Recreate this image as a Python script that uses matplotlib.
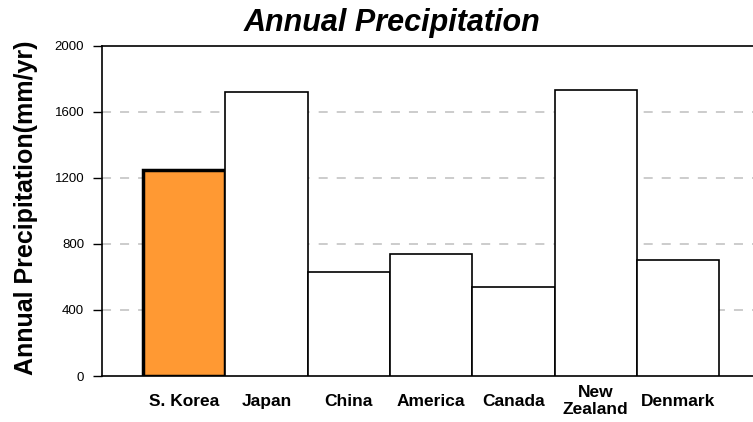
import matplotlib
matplotlib.use("Agg")
import matplotlib.pyplot as plt

plt.rcParams['font.family'] = ['Liberation Sans', 'DejaVu Sans']

countries = ["S. Korea", "Japan", "China", "America", "Canada", "New\nZealand", "Denmark"]
precip = [1245, 1718, 628, 736, 537, 1732, 702]
y_ticks = [0, 400, 800, 1200, 1600, 2000]

fig = plt.figure(figsize=(7.53, 4.22), dpi=100)
ax = fig.add_axes([0.135, 0.109, 0.865, 0.783])

x = range(len(countries))
colors = ["#FF9933"] + ["white"] * (len(countries) - 1)
widths = [2.5] + [1.2] * (len(countries) - 1)
bars = ax.bar(x, precip, width=1.0, color=colors, edgecolor="black",
              linewidth=widths, zorder=3)

ax.set_xlim(-1, 6.91)
ax.set_ylim(0, 2000)
ax.set_yticks(y_ticks)
ax.set_yticklabels([str(v) for v in y_ticks], fontsize=9.5)
ax.set_xticks(list(x))
ax.set_xticklabels(countries, fontsize=12.5, fontweight="bold", va="center",
                   linespacing=1.15)
ax.tick_params(axis="x", length=0, pad=18)
ax.tick_params(axis="y", direction="out", length=6.5, width=1, pad=6)

for v in y_ticks[1:-1]:
    ax.axhline(v, color="#c8c8c8", linewidth=1.3, dashes=(5, 5), zorder=1)

ax.spines["right"].set_visible(False)
for s in ("left", "bottom", "top"):
    ax.spines[s].set_linewidth(1.2)
    ax.spines[s].set_color("black")

ax.set_ylabel("Annual Precipitation(mm/yr)", fontsize=18, fontweight="bold")
ax.yaxis.set_label_coords(-0.098, 0.51)
fig.text(0.52, 0.945, "Annual Precipitation", fontsize=22, fontweight="bold",
         fontstyle="italic", ha="center", va="center")

fig.savefig("out.png", dpi=100)
